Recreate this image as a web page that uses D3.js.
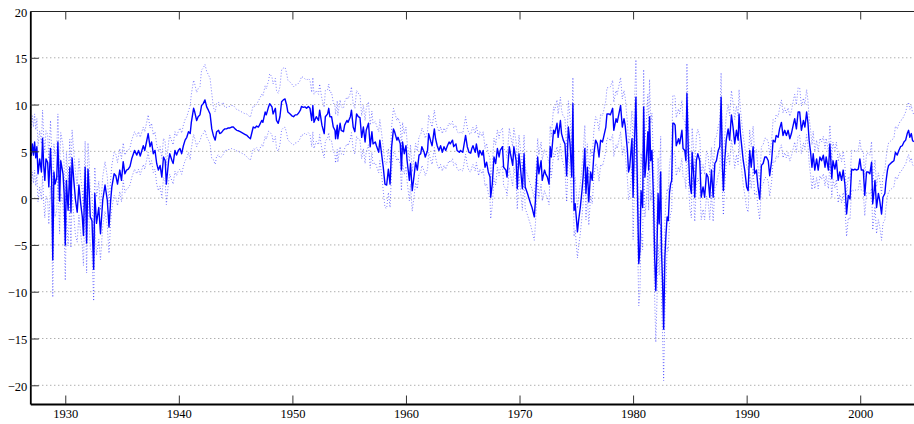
<!DOCTYPE html>
<html><head><meta charset="utf-8">
<script src="https://cdn.jsdelivr.net/npm/d3@7"></script>
<style>
body{margin:0;background:#fff}
svg{display:block}
</style>
</head><body><svg id="c" width="914" height="424"></svg>
<script>
const yTicks = [-20,-15,-10,-5,0,5,10,15,20];
const xTicks = [1930,1940,1950,1960,1970,1980,1990,2000];
const bandStartYear = 1927;
const bandUp = [3.0,3.0,3.0,3.0,2.8,2.8,2.5,2.3,2.0,2.0,
2.0,2.0,2.0,2.2,3.0,3.8,3.0,2.3,2.2,2.3,
2.8,3.2,3.4,3.2,3.0,2.8,2.6,2.5,2.5,2.3,
2.2,2.2,2.1,2.0,2.0,2.0,2.0,2.0,2.0,2.0,
2.0,2.0,2.0,2.0,2.0,2.2,2.5,2.8,2.5,2.5,
2.8,3.0,3.0,4.0,4.0,3.8,3.0,3.2,2.6,2.4,
2.6,2.6,2.6,2.2,2.0,2.2,2.4,2.6,2.4,2.0,
2.0,2.0,2.0,2.0,2.2,2.4,2.8,3.0];
const bandLo = [3.0,4.0,3.5,3.8,3.2,3.4,2.8,2.3,2.0,2.0,
2.0,2.2,2.2,2.2,2.8,3.2,2.6,2.3,2.2,2.3,
2.6,3.0,3.0,3.0,2.8,2.6,2.6,2.5,2.4,2.3,
2.2,2.5,2.2,2.2,2.0,2.0,2.0,2.0,2.0,2.0,
2.3,2.0,2.2,2.3,2.5,2.2,2.5,2.8,2.8,2.5,
2.6,2.8,3.0,4.5,4.3,5.5,3.2,3.0,2.6,2.4,
2.6,2.6,2.6,2.3,2.2,2.2,2.4,2.5,2.4,2.0,
2.0,2.4,2.2,2.2,2.8,2.8,2.6,2.6];
const series = [
[1927.0,4.5],[1927.1,5.8],[1927.2,4.6],[1927.3,6.0],[1927.4,4.3],[1927.5,5.5],[1927.6,2.6],[1927.75,4.2],[1927.9,2.8],
[1928.0,6.4],[1928.1,3.5],[1928.2,1.9],[1928.3,4.2],[1928.45,3.8],[1928.55,1.2],[1928.7,5.3],[1928.8,2.0],[1928.9,-6.6],
[1929.0,2.8],[1929.1,1.5],[1929.25,2.2],[1929.35,6.0],[1929.5,-0.3],[1929.6,4.0],[1929.8,2.6],[1929.9,0.5],
[1930.0,-5.0],[1930.1,1.9],[1930.25,-1.3],[1930.4,3.3],[1930.5,-1.5],[1930.6,4.3],[1930.75,1.9],[1930.9,-0.2],
[1931.05,-1.5],[1931.2,1.4],[1931.35,-0.5],[1931.5,-2.0],[1931.6,-4.0],[1931.75,3.3],[1931.88,-4.8],
[1932.0,3.1],[1932.1,1.0],[1932.2,-2.0],[1932.35,-2.4],[1932.5,-7.6],[1932.6,0.5],[1932.75,-2.7],[1932.95,-1.0],
[1933.1,-3.8],[1933.3,-0.2],[1933.5,1.4],[1933.7,-0.2],[1933.85,-3.1],
[1934.0,-0.2],[1934.1,1.2],[1934.3,2.6],[1934.45,2.4],[1934.6,1.5],[1934.8,3.0],[1934.95,1.9],
[1935.1,3.9],[1935.25,2.6],[1935.4,3.0],[1935.55,3.1],[1935.7,3.4],[1935.85,4.2],
[1936.1,5.1],[1936.3,4.6],[1936.45,5.1],[1936.6,4.5],[1936.87,5.6],
[1937.0,5.1],[1937.15,6.0],[1937.3,6.9],[1937.46,5.5],[1937.6,6.0],[1937.75,4.75],[1937.9,5.1],
[1938.05,3.7],[1938.2,3.0],[1938.35,3.5],[1938.5,2.25],[1938.65,4.4],[1938.8,4.0],[1938.9,1.5],
[1939.1,4.0],[1939.2,4.75],[1939.4,4.0],[1939.5,3.7],[1939.66,5.1],[1939.8,4.6],[1939.95,5.1],
[1940.1,5.3],[1940.25,4.75],[1940.4,5.6],[1940.55,6.2],[1940.7,6.5],[1940.85,7.1],
[1941.0,6.9],[1941.1,8.1],[1941.3,9.6],[1941.4,9.2],[1941.57,8.3],[1941.7,8.7],[1941.86,8.9],
[1942.0,9.9],[1942.15,10.1],[1942.3,10.5],[1942.45,9.75],[1942.6,9.4],[1942.75,9.0],[1942.9,7.4],
[1943.04,6.7],[1943.2,6.2],[1943.33,7.1],[1943.5,7.25],[1943.6,6.9],[1943.75,7.0],[1943.9,7.25],
[1944.05,7.4],[1944.2,7.4],[1944.35,7.5],[1944.5,7.5],[1944.65,7.6],[1944.8,7.6],[1944.95,7.4],
[1945.1,7.25],[1945.25,7.2],[1945.4,7.1],[1945.55,7.0],[1945.7,6.9],[1945.85,6.8],
[1946.0,6.7],[1946.15,6.5],[1946.3,6.35],[1946.55,7.6],[1946.7,7.5],[1946.85,7.7],
[1947.0,7.6],[1947.1,7.8],[1947.3,8.3],[1947.4,8.1],[1947.6,9.2],[1947.7,8.9],[1947.9,9.75],
[1948.0,10.1],[1948.2,9.75],[1948.3,9.0],[1948.5,9.6],[1948.6,8.3],[1948.75,8.0],[1948.9,8.7],
[1949.05,10.3],[1949.2,10.5],[1949.35,10.6],[1949.5,9.9],[1949.6,9.2],[1949.8,9.0],[1949.95,8.8],
[1950.1,8.7],[1950.25,8.9],[1950.4,8.9],[1950.55,9.1],[1950.7,9.4],[1950.8,9.8],[1950.95,9.7],
[1951.1,9.75],[1951.25,9.6],[1951.4,9.8],[1951.55,9.6],[1951.7,8.3],[1951.8,9.9],[1951.9,8.1],
[1952.1,8.7],[1952.3,8.3],[1952.4,9.4],[1952.6,7.8],[1952.8,6.9],[1952.9,8.7],
[1953.1,9.0],[1953.2,9.6],[1953.3,8.7],[1953.45,8.7],[1953.6,7.6],[1953.75,7.25],[1953.8,6.35],[1953.95,7.8],
[1954.0,6.35],[1954.2,8.0],[1954.3,7.25],[1954.5,7.1],[1954.6,7.8],[1954.8,8.3],[1954.9,8.1],
[1955.1,8.7],[1955.2,9.4],[1955.35,7.6],[1955.5,7.1],[1955.65,9.0],[1955.8,8.7],[1955.95,8.6],
[1956.1,6.5],[1956.25,7.6],[1956.4,6.0],[1956.5,7.25],[1956.7,8.0],[1956.85,5.5],
[1957.0,7.1],[1957.1,5.8],[1957.3,6.0],[1957.4,5.6],[1957.6,4.9],[1957.7,6.2],[1957.85,4.75],
[1958.0,3.3],[1958.15,1.5],[1958.3,1.4],[1958.45,3.1],[1958.6,1.5],[1958.74,5.5],[1958.9,7.4],
[1959.0,7.1],[1959.2,6.2],[1959.3,6.5],[1959.5,5.8],[1959.6,3.0],[1959.7,6.0],[1959.85,4.75],
[1960.0,5.6],[1960.1,4.0],[1960.3,1.9],[1960.4,3.7],[1960.55,0.8],[1960.7,2.25],[1960.85,3.85],
[1961.0,3.0],[1961.15,4.6],[1961.3,4.75],[1961.4,5.5],[1961.6,4.9],[1961.7,4.4],[1961.9,5.1],
[1962.0,6.9],[1962.2,6.0],[1962.3,5.6],[1962.5,7.4],[1962.6,6.4],[1962.75,5.6],[1962.9,5.1],
[1963.05,5.6],[1963.2,4.9],[1963.35,5.5],[1963.5,5.1],[1963.65,5.6],[1963.8,6.0],[1963.9,5.8],
[1964.1,6.2],[1964.2,5.5],[1964.4,5.8],[1964.5,5.1],[1964.7,4.9],[1964.8,5.1],
[1965.0,4.9],[1965.1,5.6],[1965.25,6.7],[1965.4,5.5],[1965.55,4.9],[1965.7,4.8],[1965.8,5.3],[1965.9,5.6],
[1966.1,4.9],[1966.2,5.8],[1966.4,4.4],[1966.5,5.1],[1966.7,4.6],[1966.8,5.1],[1966.96,3.3],
[1967.1,3.85],[1967.25,2.8],[1967.4,2.25],[1967.46,0.1],[1967.6,1.5],[1967.75,4.4],[1967.9,3.7],
[1968.05,5.3],[1968.2,4.4],[1968.3,5.1],[1968.5,5.5],[1968.6,3.3],[1968.8,3.0],[1968.9,2.25],
[1969.1,5.5],[1969.2,4.75],[1969.4,3.5],[1969.5,5.5],[1969.7,4.0],[1969.8,1.0],[1969.95,4.75],
[1970.1,3.0],[1970.25,1.0],[1970.4,4.75],[1970.5,1.2],[1970.7,0.5],[1970.8,0.1],[1970.98,-0.6],
[1971.1,-1.0],[1971.3,-2.0],[1971.4,-0.25],[1971.6,4.4],[1971.7,2.6],[1971.9,4.0],
[1972.0,1.9],[1972.2,3.0],[1972.3,2.6],[1972.45,2.25],[1972.6,1.5],[1972.7,5.5],[1972.8,4.4],
[1973.0,7.25],[1973.1,6.9],[1973.3,8.0],[1973.4,6.5],[1973.6,8.3],[1973.7,6.9],[1973.85,6.2],
[1974.0,5.8],[1974.15,2.4],[1974.3,7.6],[1974.45,5.8],[1974.6,2.25],[1974.7,10.1],[1974.8,-1.3],[1974.9,-0.6],
[1975.1,-3.6],[1975.2,-2.4],[1975.35,-1.0],[1975.5,0.8],[1975.6,2.25],[1975.75,5.3],[1975.85,0.5],[1975.97,3.3],
[1976.1,-0.4],[1976.26,2.8],[1976.4,1.9],[1976.55,4.75],[1976.7,6.2],[1976.85,5.8],
[1977.0,4.4],[1977.14,6.2],[1977.3,6.0],[1977.4,6.5],[1977.6,7.6],[1977.7,9.0],[1977.9,9.0],
[1978.0,8.9],[1978.2,9.6],[1978.3,7.25],[1978.5,8.5],[1978.6,8.1],[1978.75,9.0],[1978.9,9.9],
[1979.05,7.6],[1979.2,8.5],[1979.3,7.8],[1979.5,5.1],[1979.6,2.8],[1979.7,3.3],[1979.9,6.35],
[1980.0,0.1],[1980.1,5.1],[1980.25,10.8],[1980.4,-0.25],[1980.5,-7.0],[1980.6,-5.6],[1980.7,0.8],[1980.84,-1.0],[1980.93,9.75],
[1981.04,2.25],[1981.16,4.0],[1981.3,7.1],[1981.37,3.0],[1981.45,8.7],[1981.55,4.0],[1981.66,5.1],[1981.8,-0.25],[1981.9,-6.3],
[1982.0,-9.9],[1982.1,-5.6],[1982.2,0.5],[1982.3,-2.75],[1982.43,2.8],[1982.5,-5.6],[1982.6,-9.2],[1982.69,-14.0],[1982.8,-6.3],[1982.9,-3.8],
[1983.0,-2.0],[1983.1,-2.4],[1983.2,0.5],[1983.3,1.5],[1983.4,1.9],[1983.5,8.0],[1983.6,8.0],[1983.7,7.8],[1983.8,5.6],
[1984.0,6.35],[1984.1,5.8],[1984.3,7.25],[1984.4,5.3],[1984.55,5.1],[1984.65,4.0],[1984.74,11.2],[1984.86,5.1],
[1985.0,1.5],[1985.13,0.5],[1985.2,4.9],[1985.35,2.25],[1985.43,0.1],[1985.57,4.0],[1985.7,4.75],[1985.87,4.0],
[1986.0,0.1],[1986.16,1.2],[1986.3,0.1],[1986.46,2.6],[1986.6,2.25],[1986.75,0.1],[1986.9,3.0],
[1987.05,0.1],[1987.2,3.7],[1987.34,4.0],[1987.5,5.1],[1987.63,5.5],[1987.75,10.8],[1987.87,3.3],[1987.95,0.8],
[1988.07,4.0],[1988.2,6.2],[1988.37,7.4],[1988.5,6.2],[1988.66,8.9],[1988.8,7.6],[1988.95,5.8],
[1989.1,7.25],[1989.25,6.2],[1989.33,9.0],[1989.45,6.9],[1989.57,5.5],[1989.7,4.0],[1989.83,3.0],
[1990.0,1.2],[1990.13,0.8],[1990.27,5.1],[1990.4,3.3],[1990.57,5.5],[1990.7,2.6],[1990.86,3.0],
[1991.0,1.2],[1991.15,-0.1],[1991.3,3.5],[1991.45,3.7],[1991.6,4.4],[1991.74,4.4],[1991.9,4.0],
[1992.03,2.4],[1992.2,4.0],[1992.33,6.2],[1992.5,6.0],[1992.6,6.7],[1992.77,6.5],[1992.9,7.4],
[1993.06,8.1],[1993.2,6.7],[1993.35,7.25],[1993.5,6.7],[1993.65,7.25],[1993.8,6.35],[1993.94,6.9],
[1994.1,7.8],[1994.23,8.5],[1994.38,7.4],[1994.53,9.2],[1994.67,9.2],[1994.82,7.25],
[1995.0,8.3],[1995.13,7.6],[1995.28,9.2],[1995.4,8.0],[1995.5,6.2],[1995.63,4.9],[1995.75,3.3],[1995.86,4.75],
[1996.0,3.0],[1996.16,4.2],[1996.3,3.0],[1996.45,4.4],[1996.6,4.0],[1996.75,4.6],[1996.9,3.3],
[1997.0,4.4],[1997.2,3.0],[1997.33,5.8],[1997.5,2.1],[1997.6,4.0],[1997.77,3.1],[1997.9,4.0],
[1998.06,1.9],[1998.2,2.8],[1998.36,1.9],[1998.5,3.0],[1998.65,1.5],[1998.8,-1.7],[1998.95,0.3],
[1999.1,-0.1],[1999.24,3.1],[1999.4,3.0],[1999.53,3.1],[1999.68,3.0],[1999.83,3.1],[1999.97,4.2],
[2000.1,3.0],[2000.27,3.0],[2000.4,0.3],[2000.56,2.8],[2000.7,2.8],[2000.85,2.6],
[2001.0,3.85],[2001.1,-0.6],[2001.2,0.5],[2001.3,1.9],[2001.44,-1.0],[2001.6,0.5],[2001.7,-0.1],[2001.88,-1.7],
[2002.0,0.1],[2002.17,0.5],[2002.26,1.7],[2002.4,3.0],[2002.5,3.5],[2002.67,3.7],[2002.8,3.85],[2002.97,4.0],
[2003.1,4.9],[2003.26,4.6],[2003.4,5.1],[2003.55,5.5],[2003.7,5.6],[2003.85,6.0],
[2004.0,6.2],[2004.14,6.9],[2004.26,7.25],[2004.37,6.5],[2004.5,6.9],[2004.6,6.2],[2004.7,6.0]
];

const svg = d3.select("#c");
const x = d3.scaleLinear().domain([1926.92, 2005]).range([30.3, 917]);
const y = d3.scaleLinear().domain([-22, 20]).range([404, 11]);

const bandIdx = yr => Math.min(bandUp.length - 1, Math.max(0, Math.floor(yr) - bandStartYear));

svg.append("defs").append("clipPath").attr("id","clip")
  .append("rect").attr("x", x(1926.92)).attr("y", y(20)).attr("width", 917 - 30.3).attr("height", y(-22) - y(20));

// grid
svg.append("g").selectAll("line").data(yTicks.filter(t => t < 20)).join("line")
  .attr("x1", x(1926.92)).attr("x2", 917)
  .attr("y1", d => y(d)).attr("y2", d => y(d))
  .attr("stroke", "#8c8c8c").attr("stroke-width", 1).attr("stroke-dasharray", "1,3");

const plot = svg.append("g").attr("clip-path", "url(#clip)");
const line = d3.line().x(d => x(d[0])).y(d => y(d[1]));

plot.append("path").datum(series.map(d => [d[0], d[1] + bandUp[bandIdx(d[0])]]))
  .attr("d", line).attr("fill","none").attr("stroke","#0000ff").attr("stroke-width",1)
  .attr("stroke-dasharray","1,2").attr("stroke-opacity",0.5);
plot.append("path").datum(series.map(d => [d[0], d[1] - bandLo[bandIdx(d[0])]]))
  .attr("d", line).attr("fill","none").attr("stroke","#0000ff").attr("stroke-width",1)
  .attr("stroke-dasharray","1,2").attr("stroke-opacity",0.5);
plot.append("path").datum(series)
  .attr("d", line).attr("fill","none").attr("stroke","#0000ff").attr("stroke-width",1.4)
  .attr("stroke-linejoin","round");

const labelFont = "'Liberation Serif', 'DejaVu Serif', serif";

// axes
const yAxis = svg.append("g").attr("transform", `translate(${x(1926.92)},0)`)
  .call(d3.axisLeft(y).tickValues(yTicks).tickSize(-8.5).tickSizeOuter(0).tickPadding(3).tickFormat(d3.format("")));
yAxis.select(".domain").attr("stroke","#000").attr("stroke-width",1.8);
yAxis.selectAll(".tick line").attr("stroke","#333").attr("stroke-width",1);
yAxis.selectAll("text").attr("dy","0.4em")
  .style("font-family", labelFont).style("font-size","12.5px").style("fill","#000");

const xAxis = svg.append("g").attr("transform", `translate(0,${y(-22)})`)
  .call(d3.axisBottom(x).tickValues(xTicks).tickSize(-8.5).tickSizeOuter(0).tickPadding(5).tickFormat(d3.format("d")));
xAxis.select(".domain").attr("stroke","#000").attr("stroke-width",2);
xAxis.selectAll(".tick line").attr("stroke","#333").attr("stroke-width",1);
xAxis.selectAll("text")
  .style("font-family", labelFont).style("font-size","12.5px").style("fill","#000");

const topAxis = svg.append("g").attr("transform", `translate(0,${y(20)})`)
  .call(d3.axisTop(x).tickValues(xTicks).tickSize(-8.5).tickSizeOuter(0).tickFormat(""));
topAxis.select(".domain").attr("stroke","#222").attr("stroke-width",1);
topAxis.selectAll(".tick line").attr("stroke","#333").attr("stroke-width",1);
</script>
</body></html>
